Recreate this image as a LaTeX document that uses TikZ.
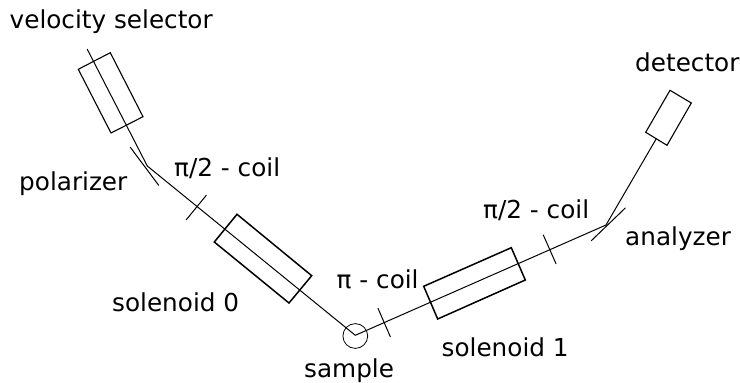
\documentclass[tikz,border=0pt]{standalone}
\usepackage{fontspec}
\setmainfont{DejaVu Sans}
\begin{document}
\begin{tikzpicture}[x=1pt,y=-1pt,
  beam/.style={line width=1pt,line cap=round,line join=round},
  device/.style={line width=1.1pt,line join=miter},
  solen/.style={line width=1.5pt,line join=miter},
  lbl/.style={anchor=base west,inner sep=0pt,font=\fontsize{24.7pt}{28pt}\selectfont}]
\useasboundingbox (0,0) rectangle (740,383);
% beam points
\coordinate (src) at (87.3,49.3);
\coordinate (pol) at (147.3,166);
\coordinate (smp) at (355.3,335.3);
\coordinate (ana) at (606,225);
\coordinate (det) at (656.3,138.7);
% velocity selector
\draw[device] (78.3,69.3) -- (110.3,52.7) -- (143,116.7) -- (111,133) -- cycle;
% solenoid 0
\draw[solen] (237,214.3) -- (311.7,275.7) -- (289,303) -- (214.3,242) -- cycle;
% solenoid 1
\draw[solen] (423.7,286.3) -- (511.3,247.7) -- (525.3,280) -- (437.7,319) -- cycle;
% detector
\draw[device] (670,90.3) -- (691.3,103) -- (667,145.3) -- (645.7,132.3) -- cycle;
% beam
\draw[beam] (src) -- (pol) -- (smp) -- (ana) -- (det);
% polarizer and analyzer
\coordinate (pola) at (130.3,147.3);
\coordinate (polb) at (158.7,185.3);
\coordinate (anaa) at (625.3,208);
\coordinate (anab) at (591.3,240.7);
\draw[beam] (pola) -- (polb);
\draw[beam] (anaa) -- (anab);
% coils
\coordinate (c1a) at (186.3,219.7);
\coordinate (c1b) at (206.3,195.3);
\coordinate (c2a) at (378,308.3);
\coordinate (c2b) at (390.3,336.7);
\coordinate (c3a) at (543.3,235);
\coordinate (c3b) at (556,263.7);
\draw[beam] (c1a) -- (c1b);
\draw[beam] (c2a) -- (c2b);
\draw[beam] (c3a) -- (c3b);
% sample
\node[draw,circle,line width=0.8pt,minimum size=24.8pt,inner sep=0pt] (sample) at (355.3,336) {};
% labels
\node[lbl] (t1) at (9.5,28.3) {velocity selector};
\node[lbl] (t2) at (635,71) {detector};
\node[lbl] (t3) at (19,190.7) {polarizer};
\node[lbl] (t4) at (174,176.5) {π/2 - coil};
\node[lbl] (t5) at (112,311) {solenoid 0};
\node[lbl] (t6) at (336.5,288.3) {π - coil};
\node[lbl] (t7) at (304,377.3) {sample};
\node[lbl] (t8) at (441.5,356.5) {solenoid 1};
\node[lbl] (t9) at (483,218) {π/2 - coil};
\node[lbl] (t10) at (625,245) {analyzer};
\end{tikzpicture}
\end{document}
